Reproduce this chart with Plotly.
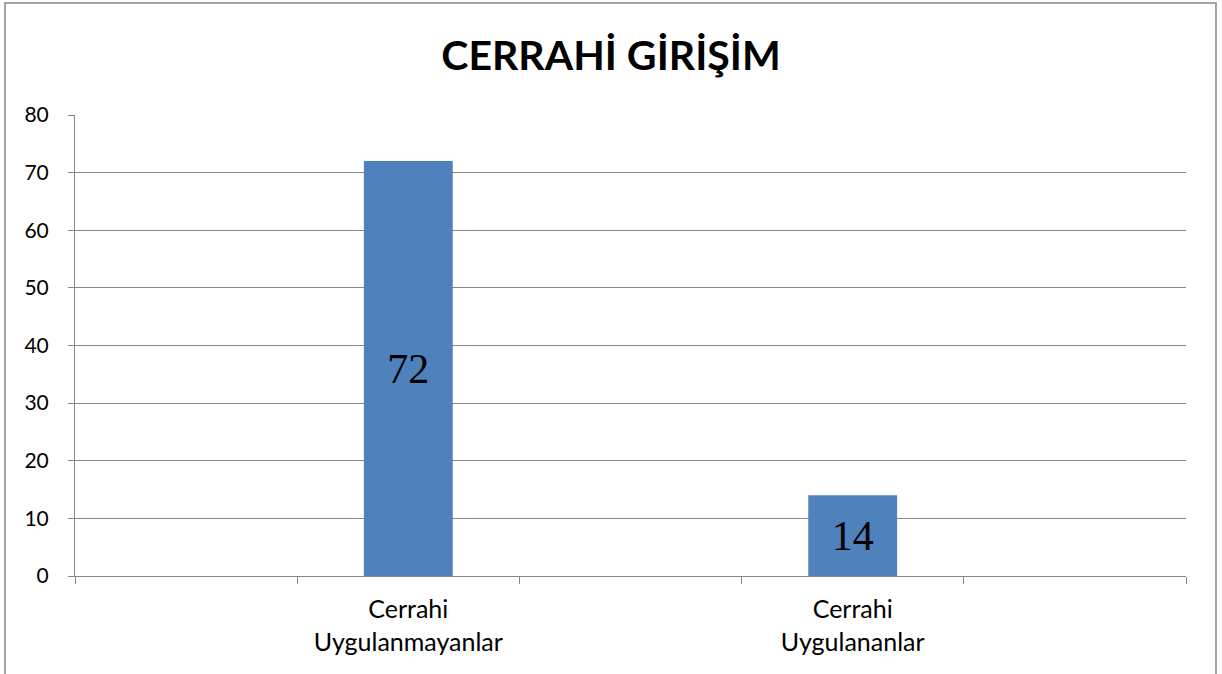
import plotly.graph_objects as go

categories = [" ", "Cerrahi<br>Uygulanmayanlar", "  ", "Cerrahi<br>Uygulananlar", "   "]
values = [None, 72, None, 14, None]
value_labels = ["", "72", "", "14", ""]
y_ticks = [0, 10, 20, 30, 40, 50, 60, 70, 80]
title_text = "CERRAHİ GİRİŞİM"

fig = go.Figure()
fig.add_trace(go.Bar(
    x=categories, y=values, text=value_labels,
    textposition="inside", insidetextanchor="middle",
    textfont=dict(family="Liberation Serif", size=42, color="black"),
    marker=dict(color="#4F81BD", line=dict(width=0)),
    width=0.4, hoverinfo="skip", showlegend=False,
))

fig.update_layout(
    width=1222, height=674,
    margin=dict(l=75, r=36, t=115, b=98),
    paper_bgcolor="white", plot_bgcolor="white",
    title=dict(text="<b>" + title_text + "</b>", x=0.5, xanchor="center",
               y=0.918, yanchor="middle",
               font=dict(family="Lato", size=41, color="black")),
    font=dict(family="Lato", color="black"),
    xaxis=dict(
        type="category", categoryorder="array", categoryarray=categories,
        tickson="boundaries", ticks="outside", ticklen=7, tickcolor="#868686",
        showline=True, linecolor="#868686", linewidth=1,
        showgrid=False, tickfont=dict(family="Lato", size=25, color="black"),
        ticklabelstandoff=11,
        range=[-0.5, 4.5],
    ),
    yaxis=dict(
        range=[0, 80], tickvals=y_ticks, ticks="outside", ticklen=6,
        tickcolor="#868686", showline=True, linecolor="#868686", linewidth=1,
        showgrid=True, gridcolor="#868686", gridwidth=1.2, zeroline=False,
        tickfont=dict(family="Lato", size=21, color="black"),
        ticklabelstandoff=15,
    ),
    shapes=[dict(type="rect", xref="paper", yref="paper",
                 x0=-70/1111, x1=1141/1111, y0=-100/461, y1=1+112/461,
                 line=dict(color="#868686", width=1.5))],
)

fig.write_html("out.html", config={"displayModeBar": False},
               post_script="document.body.style.margin='0';")
